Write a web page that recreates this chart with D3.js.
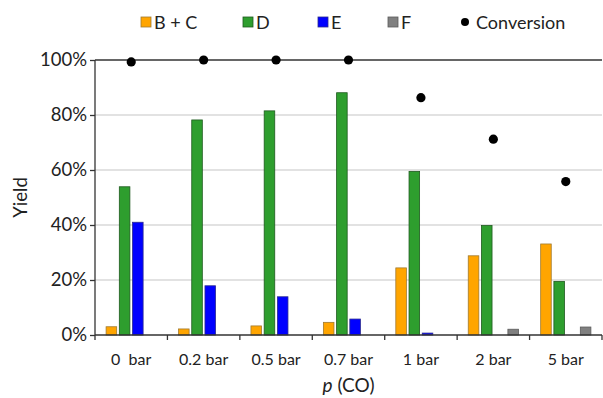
<!DOCTYPE html>
<meta charset="utf-8">
<html>
<head>
  <script src="https://d3js.org/d3.v7.min.js"></script>
  <style>
    body { margin: 0; background: #fff; }
    text { font-family: 'Lato', 'Open Sans', sans-serif; fill: #222; }
    .grid line { stroke: #d9d9d9; stroke-width: 1.3; }
    .axis path, .axis line { stroke: #333; stroke-width: 1.3; }
    .x-axis text { font-size: 16px; white-space: pre; }
    .y-axis text { font-size: 18.5px; }
  </style>
</head>
<body>
  <script>
    // data
    var categories = ["0  bar", "0.2 bar", "0.5 bar", "0.7 bar", "1 bar", "2 bar", "5 bar"];
    var series = ["B + C", "D", "E", "F"];
    var bc = [3.0, 2.2, 3.3, 4.6, 24.4, 28.8, 33.1];
    var dd = [53.9, 78.2, 81.5, 88.1, 59.5, 39.8, 19.5];
    var ee = [41.0, 17.9, 13.9, 5.8, 0.7, 0, 0];
    var ff = [0, 0, 0, 0, 0, 2.1, 2.9];
    var conversion = [99.3, 100, 100, 100, 86.3, 71.2, 55.8];
    var yTicks = [0, 20, 40, 60, 80, 100];

    var fills = ["#ffa500", "#2e9e2e", "#0000ff", "#808080"];
    var strokes = ["#a07a30", "#1f5a1f", "#2a2a90", "#5a5a5a"];
    var values = [bc, dd, ee, ff];

    var m = { top: 60, right: 1, bottom: 63, left: 95 },
      W = 603, H = 398,
      w = W - m.left - m.right,
      h = H - m.top - m.bottom;

    var svg = d3.select("body").append("svg")
      .attr("width", W).attr("height", H);
    var g = svg.append("g").attr("transform", `translate(${m.left}, ${m.top})`);

    var x = d3.scaleBand().domain(categories).range([0, w]);
    var x1 = d3.scaleBand().domain(series).range([0, x.bandwidth()])
      .paddingInner(0.2).paddingOuter(0.84);
    var y = d3.scaleLinear().domain([0, 100]).range([h, 0]);

    // gridlines
    g.append("g").attr("class", "grid")
      .selectAll("line").data(yTicks.filter(d => d > 0 && d < 100)).enter()
      .append("line")
      .attr("x1", 0).attr("x2", w)
      .attr("y1", d => y(d)).attr("y2", d => y(d));

    // 100% line
    g.append("line").attr("x1", 0).attr("x2", w)
      .attr("y1", y(100)).attr("y2", y(100))
      .attr("stroke", "#333").attr("stroke-width", 1.3);

    // bars
    var rows = [];
    categories.forEach(function(c, i) {
      series.forEach(function(s, j) {
        if (values[j][i] > 0) rows.push({ c: c, s: s, j: j, v: values[j][i] });
      });
    });
    g.selectAll("rect.bar").data(rows).enter()
      .append("rect").attr("class", "bar")
      .attr("x", d => x(d.c) + x1(d.s))
      .attr("width", x1.bandwidth())
      .attr("y", d => y(d.v))
      .attr("height", d => y(0) - y(d.v))
      .attr("fill", d => fills[d.j])
      .attr("stroke", d => strokes[d.j])
      .attr("stroke-width", 0.8);

    // conversion dots
    g.selectAll("circle.conv").data(conversion).enter()
      .append("circle").attr("class", "conv")
      .attr("cx", (d, i) => x(categories[i]) + x.bandwidth() / 2)
      .attr("cy", d => y(d))
      .attr("r", 4.6)
      .attr("fill", "#000");

    // axes
    var xAxis = g.append("g").attr("class", "axis x-axis")
      .attr("transform", `translate(0, ${h})`)
      .call(d3.axisBottom(x).tickSize(0).tickPadding(19));
    xAxis.select(".domain").attr("d", `M0,0H${w}`);
    xAxis.selectAll(".bound").data(d3.range(categories.length + 1)).enter()
      .append("line").attr("class", "bound")
      .attr("x1", i => i * x.step()).attr("x2", i => i * x.step())
      .attr("y1", 0).attr("y2", 5);

    var yAxis = g.append("g").attr("class", "axis y-axis")
      .call(d3.axisLeft(y).tickValues(yTicks).tickSize(5).tickSizeOuter(0)
        .tickPadding(3).tickFormat(d => d + "%"));
    yAxis.select(".domain").attr("d", `M0,${h}V0`);

    // axis titles
    svg.append("text")
      .attr("x", m.left + w / 2).attr("y", 392)
      .attr("text-anchor", "middle").attr("font-size", 19)
      .html('<tspan font-style="italic">p</tspan> (CO)');

    svg.append("text")
      .attr("transform", `translate(27, ${m.top + h / 2}) rotate(-90)`)
      .attr("text-anchor", "middle").attr("font-size", 18.5)
      .text("Yield");

    // legend
    var legX = [141, 243, 318, 388];
    var leg = svg.append("g");
    series.forEach(function(s, j) {
      leg.append("rect")
        .attr("x", legX[j]).attr("y", 17).attr("width", 10).attr("height", 10)
        .attr("fill", fills[j]).attr("stroke", strokes[j]).attr("stroke-width", 0.8);
      leg.append("text")
        .attr("x", legX[j] + 13).attr("y", 28.5)
        .attr("font-size", 18).attr("fill", "#444")
        .text(s);
    });
    leg.append("circle").attr("cx", 465).attr("cy", 22).attr("r", 4).attr("fill", "#000");
    leg.append("text").attr("x", 476).attr("y", 28.5)
      .attr("font-size", 18).attr("fill", "#444").text("Conversion");
  </script>
</body>
</html>
